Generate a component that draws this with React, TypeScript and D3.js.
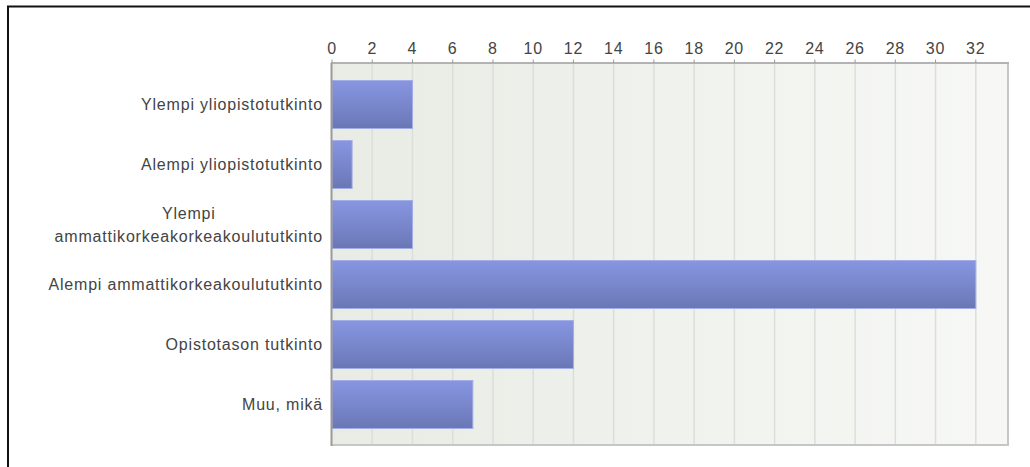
import React, { useEffect, useRef } from "react";
import * as d3 from "d3";

const categories = [
  "Ylempi yliopistotutkinto",
  "Alempi yliopistotutkinto",
  "Ylempi ammattikorkeakorkeakoulututkinto",
  "Alempi ammattikorkeakoulututkinto",
  "Opistotason tutkinto",
  "Muu, mikä",
];
const values = [4, 1, 4, 32, 12, 7];
const tickValues = [0, 2, 4, 6, 8, 10, 12, 14, 16, 18, 20, 22, 24, 26, 28, 30, 32];
const xMax = 33.6;

const W = 1030;
const H = 467;
const FONT = "Arial, 'Liberation Sans', sans-serif";

export default function App() {
  const ref = useRef<SVGSVGElement | null>(null);

  useEffect(() => {
    const svg = d3.select(ref.current);
    svg.selectAll("*").remove();

    const left = 332, right = 1008, top = 64, bottom = 445;
    const x = d3.scaleLinear().domain([0, xMax]).range([left, right]);
    const y = d3
      .scaleBand<string>()
      .domain(categories)
      .range([top, bottom])
      .paddingInner(0.2)
      .paddingOuter(0.275);

    const defs = svg.append("defs");
    const bg = defs.append("linearGradient").attr("id", "bg").attr("x1", "0").attr("x2", "1").attr("y1", "0").attr("y2", "0");
    bg.append("stop").attr("offset", "0").attr("stop-color", "#e8ece4");
    bg.append("stop").attr("offset", "1").attr("stop-color", "#f7f8f6");
    const bar = defs.append("linearGradient").attr("id", "bar").attr("x1", "0").attr("x2", "0").attr("y1", "0").attr("y2", "1");
    bar.append("stop").attr("offset", "0").attr("stop-color", "#8896e2");
    bar.append("stop").attr("offset", "1").attr("stop-color", "#6a77b6");

    // frame
    svg.append("line").attr("x1", 7).attr("x2", W).attr("y1", 6.5).attr("y2", 6.5).attr("stroke", "#111").attr("stroke-width", 2);
    svg.append("line").attr("x1", 8).attr("x2", 8).attr("y1", 6).attr("y2", H).attr("stroke", "#111").attr("stroke-width", 2);

    // plot bg
    svg.append("rect").attr("x", left).attr("y", top).attr("width", right - left).attr("height", bottom - top).attr("fill", "url(#bg)");

    // grid
    svg
      .append("g")
      .selectAll("line")
      .data(tickValues.filter((t) => t > 0))
      .join("line")
      .attr("x1", (d) => x(d))
      .attr("x2", (d) => x(d))
      .attr("y1", top)
      .attr("y2", bottom)
      .attr("stroke", "#dcdfd8")
      .attr("stroke-width", 1.5);

    // plot border right/bottom
    svg.append("path")
      .attr("d", `M${right},${top}V${bottom}H${left}`)
      .attr("fill", "none")
      .attr("stroke", "#c6c6c6")
      .attr("stroke-width", 2);

    // bars
    svg
      .append("g")
      .selectAll("rect")
      .data(values)
      .join("rect")
      .attr("x", x(0))
      .attr("y", (_, i) => y(categories[i])!)
      .attr("width", (d) => x(d) - x(0))
      .attr("height", y.bandwidth())
      .attr("fill", "url(#bar)")
      .attr("stroke", "#a3ade6")
      .attr("stroke-width", 1);

    // left axis line
    svg.append("line").attr("x1", left - 0.5).attr("x2", left - 0.5).attr("y1", top - 1).attr("y2", bottom + 1).attr("stroke", "#9a9a9a").attr("stroke-width", 2);

    // top axis
    svg.append("line").attr("x1", left - 1).attr("x2", right + 1).attr("y1", 63).attr("y2", 63).attr("stroke", "#9a9a9a").attr("stroke-width", 1.5);
    const ticks = svg.append("g");
    ticks
      .selectAll("line")
      .data(tickValues)
      .join("line")
      .attr("x1", (d) => x(d))
      .attr("x2", (d) => x(d))
      .attr("y1", 59.5)
      .attr("y2", 63)
      .attr("stroke", "#9a9a9a")
      .attr("stroke-width", 1);
    ticks
      .selectAll("text")
      .data(tickValues)
      .join("text")
      .attr("x", (d) => x(d))
      .attr("y", 54)
      .attr("text-anchor", "middle")
      .attr("font-family", FONT)
      .attr("font-size", 16)
      .attr("letter-spacing", 0.8)
      .attr("fill", "#444")
      .text((d) => String(d));

    // category labels
    const labelRight = 323;
    const maxW = 290;
    const lineH = 23;
    const lg = svg.append("g");
    categories.forEach((c) => {
      const cy = y(c)! + y.bandwidth() / 2;
      const measure = lg
        .append("text")
        .attr("font-family", FONT)
        .attr("font-size", 16)
        .attr("letter-spacing", 0.8)
        .text(c);
      const full = (measure.node() as SVGTextElement).getComputedTextLength();
      measure.remove();
      let lines: string[] = [c];
      if (full > maxW) {
        const words = c.split(" ");
        lines = [];
        let cur = "";
        words.forEach((w) => {
          const test = cur ? cur + " " + w : w;
          const t = lg.append("text").attr("font-family", FONT).attr("font-size", 16).attr("letter-spacing", 0.8).text(test);
          const tw = (t.node() as SVGTextElement).getComputedTextLength();
          t.remove();
          if (tw > maxW && cur) {
            lines.push(cur);
            cur = w;
          } else cur = test;
        });
        if (cur) lines.push(cur);
      }
      if (lines.length === 1) {
        lg.append("text")
          .attr("x", labelRight)
          .attr("y", cy)
          .attr("dy", "0.35em")
          .attr("text-anchor", "end")
          .attr("font-family", FONT)
          .attr("font-size", 16)
          .attr("letter-spacing", 0.8)
          .attr("fill", "#444")
          .text(c);
      } else {
        let widest = 0;
        lines.forEach((l) => {
          const t = lg.append("text").attr("font-family", FONT).attr("font-size", 16).attr("letter-spacing", 0.8).text(l);
          widest = Math.max(widest, (t.node() as SVGTextElement).getComputedTextLength());
          t.remove();
        });
        const cx = labelRight - widest / 2;
        lines.forEach((l, i) => {
          lg.append("text")
            .attr("x", cx)
            .attr("y", cy + (i - (lines.length - 1) / 2) * lineH)
            .attr("dy", "0.35em")
            .attr("text-anchor", "middle")
            .attr("font-family", FONT)
            .attr("font-size", 16)
            .attr("letter-spacing", 0.8)
            .attr("fill", "#444")
            .text(l);
        });
      }
    });
  }, []);

  return (
    <svg
      ref={ref}
      width={W}
      height={H}
      style={{ position: "absolute", left: 0, top: 0, background: "#fff" }}
    />
  );
}
